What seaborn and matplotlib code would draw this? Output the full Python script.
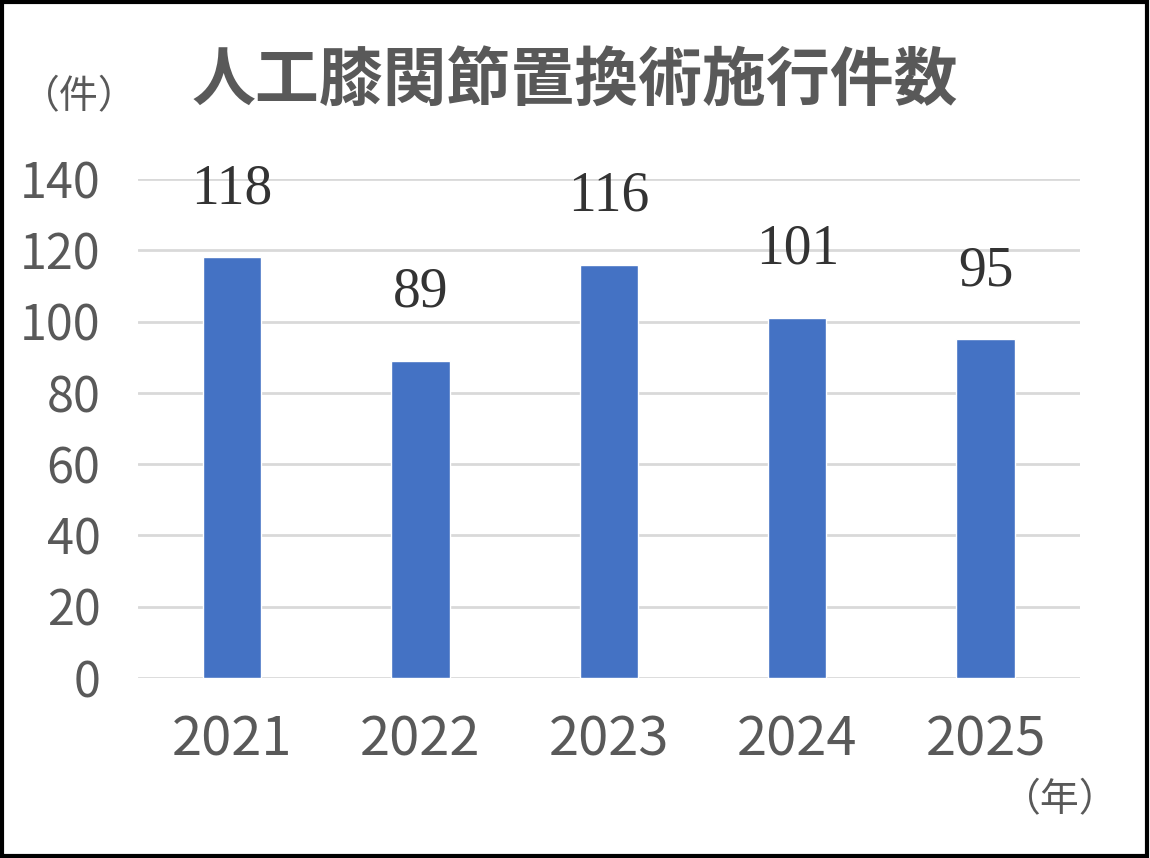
import matplotlib
matplotlib.use("Agg")
import matplotlib.pyplot as plt
from matplotlib import font_manager
from matplotlib.patches import Rectangle
import seaborn as sns
import pandas as pd

years = ["2021", "2022", "2023", "2024", "2025"]
counts = [118, 89, 116, 101, 95]
yticks = [0, 20, 40, 60, 80, 100, 120, 140]
title = "人工膝関節置換術施行件数"
ylabel = "（件）"
xlabel = "（年）"

sns.set_theme(style="white")
names = {f.name for f in font_manager.fontManager.ttflist}
narrow = "Liberation Sans Narrow" if "Liberation Sans Narrow" in names else ("DejaVu Sans Condensed" if "DejaVu Sans Condensed" in names else "Noto Sans CJK JP")
plt.rcParams['font.family'] = ['Noto Sans CJK JP', 'DejaVu Sans']

gray = "#595959"
df = pd.DataFrame({"year": years, "count": counts})

fig = plt.figure(figsize=(11.5, 8.58), dpi=100)
ax = fig.add_axes([0.12, 0.2098, 0.819, 0.5816])
sns.barplot(data=df, x="year", y="count", color="#4472C4", width=0.31, saturation=1, ax=ax, zorder=3)
ax.set_ylim(0, 140)
ax.set_yticks(yticks)
ax.set_xlim(-0.5, len(years) - 0.5)
ax.grid(axis="y", color="#D9D9D9", linewidth=2, zorder=0)
ax.grid(axis="x", visible=False)
for s in ax.spines.values():
    s.set_visible(False)
ax.set_xlabel("")
ax.set_ylabel("")
ax.tick_params(axis="both", length=0)
ax.tick_params(axis="y", pad=27)
ax.tick_params(axis="x", pad=25)
for lab in ax.get_yticklabels():
    lab.set_fontfamily([narrow, 'DejaVu Sans'])
    lab.set_fontsize(35)
    lab.set_color(gray)
for lab in ax.get_xticklabels():
    lab.set_fontfamily([narrow, 'DejaVu Sans'])
    lab.set_fontsize(39)
    lab.set_color(gray)

for i, v in enumerate(counts):
    ax.annotate(str(v), (i, v), xytext=(0, 49), textcoords="offset points",
                ha="center", va="center", fontsize=40, color="#333333",
                family=["Liberation Serif", "DejaVu Serif"])

fig.text(0.5, 0.906, title, ha="center", va="center", fontsize=46,
         fontweight="bold", color=gray, family=["Noto Sans CJK JP", "DejaVu Sans"])
fig.text(0.0687, 0.887, ylabel, ha="center", va="center", fontsize=28,
         color=gray, family=["Noto Sans CJK JP", "DejaVu Sans"])
fig.text(0.922, 0.0676, xlabel, ha="center", va="center", fontsize=28,
         color=gray, family=["Noto Sans CJK JP", "DejaVu Sans"])

fig.patches.append(Rectangle((0.0015, 0.002), 0.9955, 0.9955, transform=fig.transFigure,
                             fill=False, edgecolor="black", linewidth=3, zorder=10))
fig.savefig("out.png", dpi=100)
